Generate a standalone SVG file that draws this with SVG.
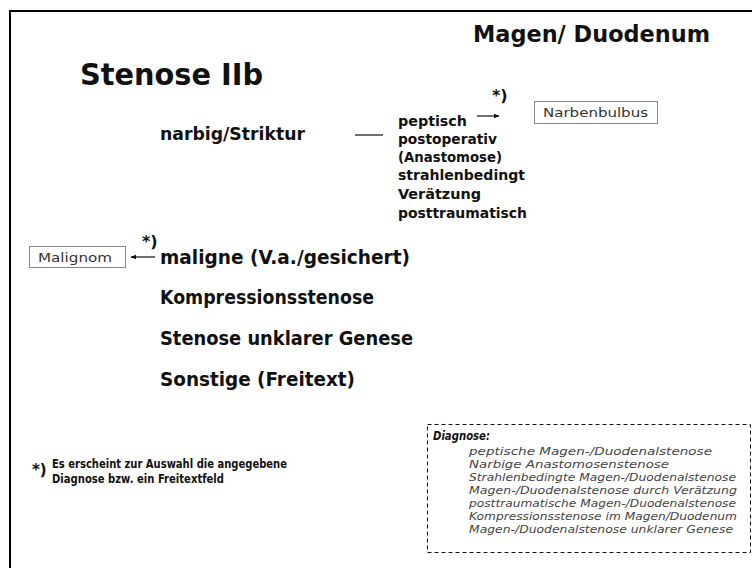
<svg xmlns="http://www.w3.org/2000/svg" width="752" height="568" viewBox="0 0 752 568">
<defs>
<style>
.b{font-family:"DejaVu Sans","Liberation Sans",sans-serif;font-weight:bold;fill:#111}
.r{font-family:"DejaVu Sans","Liberation Sans",sans-serif;fill:#333}
.i{font-family:"DejaVu Sans","Liberation Sans",sans-serif;font-style:italic;fill:#444}
.box{fill:#fff;stroke:#888;stroke-width:1}
.ln{stroke:#111;stroke-width:1.2;fill:none}
</style>
<marker id="ah" viewBox="0 0 10 10" refX="9" refY="5" markerWidth="6" markerHeight="6" orient="auto" markerUnits="userSpaceOnUse">
<path d="M0,1 L10,5 L0,9 Z" fill="#111"/>
</marker>
</defs>
<rect width="752" height="568" fill="#fff"/>
<path d="M10,568 V11 H752" fill="none" stroke="#000" stroke-width="2"/>
<g id="title-region"><text class="b" x="473" y="42" font-size="23" textLength="237" lengthAdjust="spacingAndGlyphs">Magen/ Duodenum</text></g>
<g id="title"><text class="b" x="80" y="85" font-size="31" textLength="183" lengthAdjust="spacingAndGlyphs">Stenose IIb</text></g>
<g id="narbig"><text class="b" x="160" y="140" font-size="17.5" textLength="145" lengthAdjust="spacingAndGlyphs">narbig/Striktur</text></g>
<g id="narbig-list" class="b" font-size="14.5">
<text x="398" y="126" textLength="69" lengthAdjust="spacingAndGlyphs">peptisch</text>
<text x="398" y="144" textLength="99" lengthAdjust="spacingAndGlyphs">postoperativ</text>
<text x="398" y="162" textLength="104" lengthAdjust="spacingAndGlyphs">(Anastomose)</text>
<text x="398" y="180" textLength="127" lengthAdjust="spacingAndGlyphs">strahlenbedingt</text>
<text x="398" y="199" textLength="83" lengthAdjust="spacingAndGlyphs">Verätzung</text>
<text x="398" y="218" textLength="129" lengthAdjust="spacingAndGlyphs">posttraumatisch</text>
</g>
<g id="narbenbulbus"><rect class="box" x="534.5" y="101.5" width="123" height="22"/><text class="r" x="543" y="117" font-size="13" textLength="105" lengthAdjust="spacingAndGlyphs">Narbenbulbus</text></g>
<g id="malignom"><rect class="box" x="29.5" y="246.5" width="96" height="21"/><text class="r" x="38" y="262" font-size="13" textLength="74" lengthAdjust="spacingAndGlyphs">Malignom</text></g>
<g id="maligne"><text class="b" x="160" y="264" font-size="19.5" textLength="250" lengthAdjust="spacingAndGlyphs">maligne (V.a./gesichert)</text></g>
<g id="kompression"><text class="b" x="160" y="304" font-size="19.5" textLength="214" lengthAdjust="spacingAndGlyphs">Kompressionsstenose</text></g>
<g id="unklar"><text class="b" x="160" y="345" font-size="19.5" textLength="253" lengthAdjust="spacingAndGlyphs">Stenose unklarer Genese</text></g>
<g id="sonstige"><text class="b" x="160" y="386" font-size="19.5" textLength="195" lengthAdjust="spacingAndGlyphs">Sonstige (Freitext)</text></g>
<g id="connectors">
<line class="ln" x1="355" y1="135" x2="383" y2="135"/>
<line class="ln" x1="477" y1="116" x2="499" y2="116" marker-end="url(#ah)"/>
<text class="b" x="492" y="101" font-size="16">*)</text>
<line class="ln" x1="155" y1="257" x2="131" y2="257" marker-end="url(#ah)"/>
<text class="b" x="142" y="247" font-size="16">*)</text>
</g>
<g id="footnote">
<text class="b" x="32" y="475" font-size="15">*)</text>
<text class="b" x="52" y="468" font-size="12.5" textLength="235" lengthAdjust="spacingAndGlyphs">Es erscheint zur Auswahl die angegebene</text>
<text class="b" x="52" y="483" font-size="12.5" textLength="172" lengthAdjust="spacingAndGlyphs">Diagnose bzw. ein Freitextfeld</text>
</g>
<g id="diagnose">
<rect x="427.5" y="424.5" width="323" height="128" fill="none" stroke="#111" stroke-width="1" stroke-dasharray="4,3"/>
<text x="433" y="440" font-size="11.5" style="font-family:'DejaVu Sans','Liberation Sans',sans-serif;font-weight:bold;font-style:italic;fill:#111" textLength="57" lengthAdjust="spacingAndGlyphs">Diagnose:</text>
<g class="i" font-size="11">
<text x="469" y="455" textLength="243" lengthAdjust="spacingAndGlyphs">peptische Magen-/Duodenalstenose</text>
<text x="469" y="468" textLength="200" lengthAdjust="spacingAndGlyphs">Narbige Anastomosenstenose</text>
<text x="469" y="481" textLength="267" lengthAdjust="spacingAndGlyphs">Strahlenbedingte Magen-/Duodenalstenose</text>
<text x="469" y="494" textLength="268" lengthAdjust="spacingAndGlyphs">Magen-/Duodenalstenose durch Verätzung</text>
<text x="469" y="507" textLength="267" lengthAdjust="spacingAndGlyphs">posttraumatische Magen-/Duodenalstenose</text>
<text x="469" y="520" textLength="268" lengthAdjust="spacingAndGlyphs">Kompressionsstenose im Magen/Duodenum</text>
<text x="469" y="533" textLength="264" lengthAdjust="spacingAndGlyphs">Magen-/Duodenalstenose unklarer Genese</text>
</g>
</g>
</svg>
